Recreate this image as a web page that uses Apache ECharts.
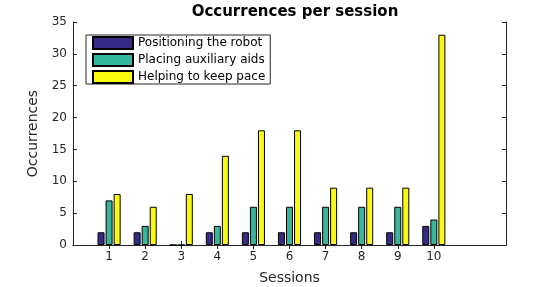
<!DOCTYPE html>
<html>
<head>
<meta charset="utf-8">
<script src="https://cdn.jsdelivr.net/npm/echarts@6/dist/echarts.min.js"></script>
<style>
  html, body { margin: 0; padding: 0; background: #fff; }
  #chart { width: 560px; height: 287px; }
</style>
</head>
<body>
<div id="chart"></div>
<script>
// x positions 0..12, sessions sit at 1..10
var sessions = ['0', '1', '2', '3', '4', '5', '6', '7', '8', '9', '10', '11', '12'];
var positioning = [null, 2, 2, 0, 2, 2, 2, 2, 2, 2, 3, null, null];
var placing = [null, 7, 3, 0, 3, 6, 6, 6, 6, 6, 4, null, null];
var helping = [null, 8, 6, 8, 14, 18, 18, 9, 9, 9, 33, null, null];
var yTicks = [0, 5, 10, 15, 20, 25, 30, 35];

var chart = echarts.init(document.getElementById('chart'));

var font = 'DejaVu Sans';
var txt = '#262626';
var showSession = function (i) { return i >= 1 && i <= 10; };

function bar(name, data, color) {
    return {
        name: name,
        type: 'bar',
        data: data,
        barWidth: 7,
        barGap: '15%',
        itemStyle: { color: color, borderColor: '#000', borderWidth: 1 }
    };
}

var xBase = {
    type: 'category',
    data: sessions,
    boundaryGap: false,
    axisLine: { lineStyle: { color: txt, width: 1 } },
    axisTick: { inside: true, length: 4, interval: showSession, lineStyle: { color: txt } },
    splitLine: { show: false }
};
var yBase = {
    type: 'value',
    min: 0,
    max: 35,
    interval: 5,
    axisLine: { show: true, lineStyle: { color: txt, width: 1 } },
    axisTick: { show: true, inside: true, length: 4, lineStyle: { color: txt } },
    splitLine: { show: false }
};

var option = {
    animation: false,
    textStyle: { fontFamily: font },
    title: {
        text: 'Occurrences per session',
        left: 290,
        textAlign: 'center',
        top: 0,
        textStyle: { fontFamily: font, fontSize: 15, fontWeight: 'bold', color: '#000' }
    },
    grid: { left: 73, right: 54, top: 22, bottom: 42, outerBoundsMode: 'none' },
    legend: {
        orient: 'vertical',
        left: 86,
        top: 35,
        itemWidth: 40,
        itemHeight: 12,
        itemGap: 3,
        padding: [1, 5, 0, 6],
        borderColor: '#262626',
        borderWidth: 1,
        backgroundColor: '#fff',
        icon: 'rect',
        textStyle: { fontFamily: font, fontSize: 12, color: '#000' },
        data: ['Positioning the robot', 'Placing auxiliary aids', 'Helping to keep pace']
    },
    xAxis: [
        Object.assign({}, xBase, {
            position: 'bottom',
            name: 'Sessions',
            nameLocation: 'middle',
            nameGap: 26,
            nameTextStyle: { fontFamily: font, fontSize: 14, color: txt },
            axisLabel: {
                interval: showSession,
                margin: 6,
                fontFamily: font,
                fontSize: 12,
                color: txt
            }
        }),
        Object.assign({}, xBase, { position: 'top', axisLabel: { show: false } })
    ],
    yAxis: [
        Object.assign({}, yBase, {
            position: 'left',
            name: 'Occurrences',
            nameLocation: 'middle',
            nameGap: 21,
            nameTextStyle: { fontFamily: font, fontSize: 14, color: txt },
            axisLabel: {
                margin: 6,
                fontFamily: font,
                fontSize: 12,
                color: txt,
                formatter: function (v) { return yTicks.indexOf(v) >= 0 ? String(v) : ''; }
            }
        }),
        Object.assign({}, yBase, { position: 'right', axisLabel: { show: false } })
    ],
    series: [
        bar('Positioning the robot', positioning, '#352a87'),
        bar('Placing auxiliary aids', placing, '#35b79b'),
        bar('Helping to keep pace', helping, '#f9fb0e')
    ]
};

chart.setOption(option);
</script>
</body>
</html>
